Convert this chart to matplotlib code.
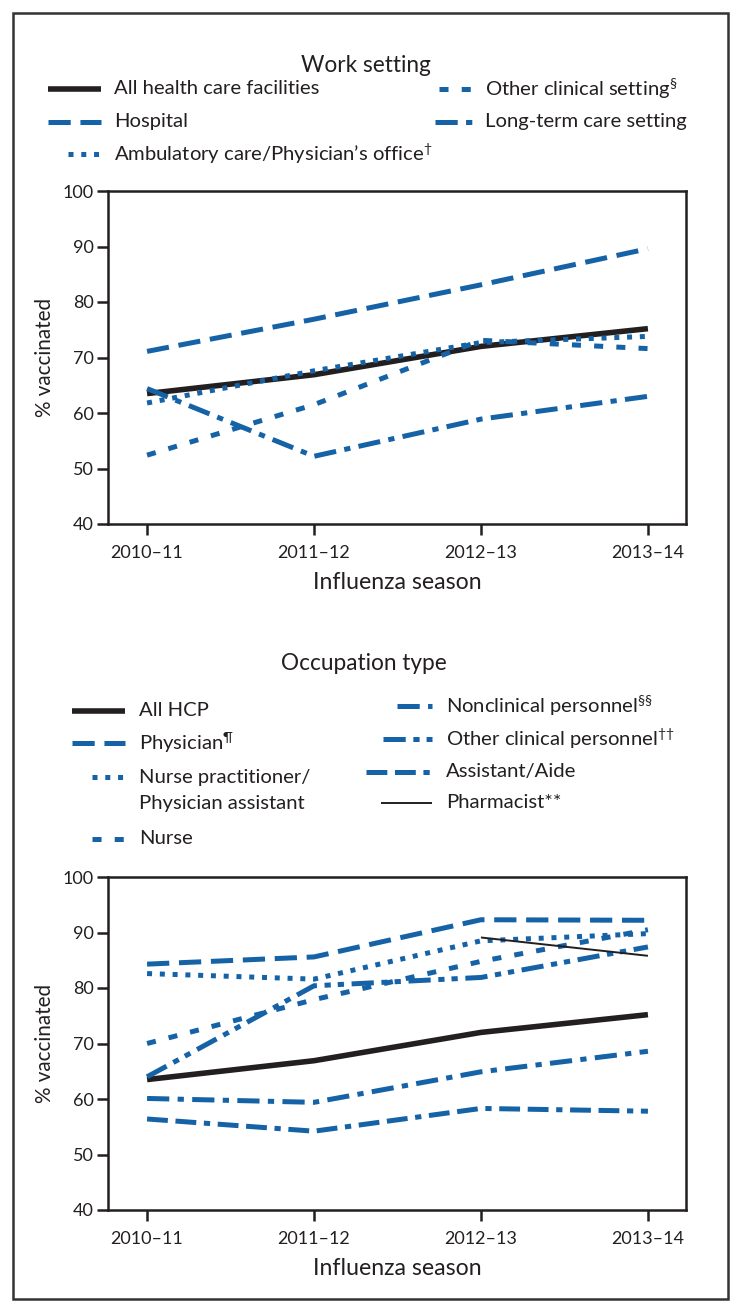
import matplotlib
matplotlib.use('Agg')
import matplotlib.pyplot as plt
from matplotlib.lines import Line2D
from matplotlib.patches import Rectangle
import numpy as np

plt.rcParams['font.family'] = ['Lato', 'DejaVu Sans']
plt.rcParams['mathtext.fontset'] = 'custom'
plt.rcParams['mathtext.rm'] = 'Lato'
plt.rcParams['mathtext.default'] = 'regular'
plt.rcParams['lines.scale_dashes'] = False

W, H = 741, 1312
BLUE = '#1563a6'
BLACK = '#231f20'
LEGEND_FS = 14.6

seasons = ['2010–11', '2011–12', '2012–13', '2013–14']

# -- Work setting
all_facilities = [63.5, 66.9, 72.0, 75.2]
hospital = [71.1, 76.9, 83.1, 89.6]
ambulatory = [61.8, 67.6, 72.7, 73.8]
other_setting = [52.4, 61.5, 73.1, 71.6]
long_term = [64.4, 52.2, 58.9, 63.0]

# -- Occupation type
all_hcp = [63.5, 66.9, 72.0, 75.2]
physician = [84.3, 85.6, 92.3, 92.2]
np_pa = [82.6, 81.6, 88.5, 89.8]
nurse = [70.0, 77.9, 84.8, 90.5]
nonclinical = [60.1, 59.4, 64.9, 68.6]
other_personnel = [64.0, 80.4, 81.9, 87.4]
assistant = [56.4, 54.2, 58.3, 57.8]
pharmacist = [np.nan, np.nan, 89.1, 85.8]

# line styles
SOLID = dict(color=BLACK, lw=4, ls='-', solid_capstyle='butt')
THIN = dict(color=BLACK, lw=1.4, ls='-', solid_capstyle='butt')
DASH = dict(color=BLUE, lw=3.6, ls=(0, (16, 7)))
DOT = dict(color=BLUE, lw=3.6, ls=(0, (3.6, 5.6)))
SHORT = dict(color=BLUE, lw=3.6, ls=(0, (6.5, 9.5)))
DASHDOT = dict(color=BLUE, lw=3.6, ls=(0, (16, 6, 4.5, 6)))
DASHDOTDOT = dict(color=BLUE, lw=3.6, ls=(0, (16, 5.5, 4.5, 5, 4.5, 5.5)))
DASHDASHDOT = dict(color=BLUE, lw=3.6, ls=(0, (15, 5.5, 15, 5.5, 4.5, 5.5)))

fig = plt.figure(figsize=(W / 100, H / 100), dpi=100)


def fx(x):
    return x / W


def fy(y):
    return 1 - y / H


def setup_axes(top_px):
    ax = fig.add_axes([fx(108), fy(top_px + 333), (686 - 108) / W, 333 / H])
    ax.set_xlim(-0.234, 3.228)
    ax.set_ylim(40, 100)
    ax.set_yticks(range(40, 101, 10))
    ax.set_xticks(range(len(seasons)))
    ax.set_xticklabels(seasons)
    for s in ax.spines.values():
        s.set_linewidth(1.8)
        s.set_color(BLACK)
    ax.tick_params(axis='both', direction='out', length=8, width=1.8,
                   color=BLACK, labelsize=13, labelcolor=BLACK)
    ax.tick_params(axis='y', pad=2)
    ax.tick_params(axis='x', pad=7)
    ax.set_ylabel('% vaccinated', fontsize=14.9, color=BLACK, labelpad=6)
    ax.set_xlabel('Influenza season', fontsize=16.7, color=BLACK, labelpad=8)
    return ax


def key(x0, x1, y, text_x, label, style):
    fig.add_artist(Line2D([fx(x0), fx(x1)], [fy(y), fy(y)],
                          transform=fig.transFigure, **style))
    fig.text(fx(text_x), fy(y), label, va='center', ha='left',
             fontsize=LEGEND_FS, color=BLACK)


x = np.arange(len(seasons))

# ---- top: work setting
ax1 = setup_axes(191)
ax1.plot(x, all_facilities, **SOLID, zorder=2)
ax1.plot(x, hospital, **DASH, zorder=3)
ax1.plot(x, ambulatory, **DOT, zorder=3)
ax1.plot(x, other_setting, **SHORT, zorder=3)
ax1.plot(x, long_term, **DASHDOT, zorder=3)

fig.text(fx(366), fy(66), 'Work setting', ha='center', va='center',
         fontsize=16.3, color=BLACK)
key(48, 101, 89, 114, 'All health care facilities', SOLID)
key(48, 101, 122, 114, 'Hospital', DASH)
key(68, 99, 154, 114, 'Ambulatory care/Physician’s office$^{†}$', DOT)
key(439, 473, 89, 485, 'Other clinical setting$^{§}$', SHORT)
key(435, 473, 122, 485, 'Long-term care setting', DASHDOT)

# ---- bottom: occupation type
ax2 = setup_axes(877)
ax2.plot(x, all_hcp, **SOLID, zorder=2)
ax2.plot(x, physician, **DASH, zorder=3)
ax2.plot(x, np_pa, **DOT, zorder=3)
ax2.plot(x, nurse, **SHORT, zorder=3)
ax2.plot(x, nonclinical, **DASHDOT, zorder=3)
ax2.plot(x, other_personnel, **DASHDOTDOT, zorder=3)
ax2.plot(x, assistant, **DASHDASHDOT, zorder=3)
ax2.plot(x, pharmacist, **THIN, zorder=4)

fig.text(fx(364), fy(664), 'Occupation type', ha='center', va='center',
         fontsize=16.3, color=BLACK)
key(72, 125, 711, 139, 'All HCP', SOLID)
key(72, 125, 743, 139, 'Physician$^{¶}$', DASH)
key(92, 125, 777, 139, 'Nurse practitioner/', DOT)
fig.text(fx(139), fy(803), 'Physician assistant', va='center', ha='left',
         fontsize=LEGEND_FS, color=BLACK)
key(92, 125, 839, 139, 'Nurse', SHORT)
key(397, 432, 706, 446, 'Nonclinical personnel$^{§§}$', DASHDOT)
key(383, 432, 739, 446, 'Other clinical personnel$^{††}$', DASHDOTDOT)
key(366, 432, 772, 446, 'Assistant/Aide', DASHDASHDOT)
key(381, 432, 803, 446, 'Pharmacist**', THIN)

# outer frame
fig.add_artist(Rectangle((fx(13), fy(1299)), (728 - 13) / W, (1299 - 13) / H,
                         transform=fig.transFigure, fill=False,
                         edgecolor='#333333', lw=1.8))

fig.savefig('out.png', dpi=100)
